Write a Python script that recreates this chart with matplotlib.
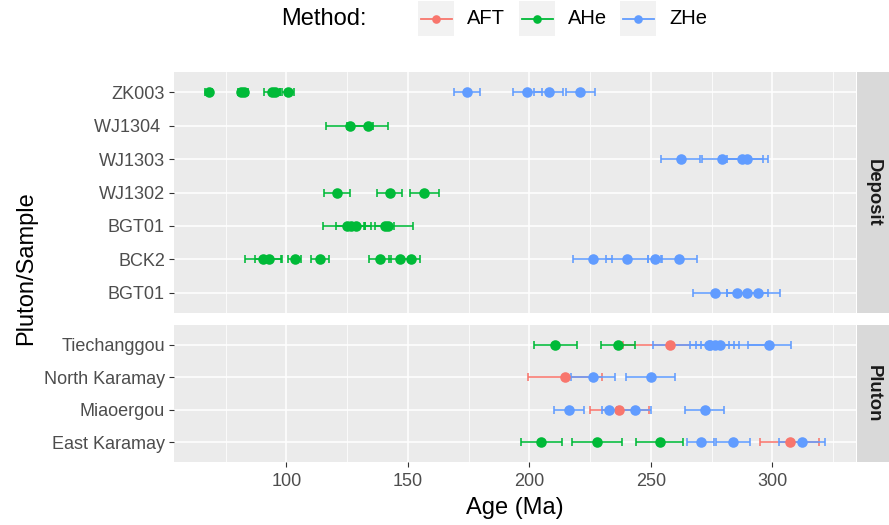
#!/usr/bin/env python3
import numpy as np
import matplotlib
matplotlib.use('Agg')
import matplotlib.pyplot as plt
from matplotlib.patches import Rectangle
from matplotlib.lines import Line2D

plt.rcParams['font.family'] = ['Liberation Sans', 'DejaVu Sans']

# Row keys per facet (top to bottom) and the text shown on the axis
deposit_keys = ["ZK003", "WJ1304", "WJ1303", "WJ1302", "BGT01", "BCK2", "BGT01b"]
deposit_labels = ["ZK003", "WJ1304 ", "WJ1303", "WJ1302", "BGT01", "BCK2", "BGT01"]
pluton_keys = ["Tiechanggou", "North Karamay", "Miaoergou", "East Karamay"]
pluton_labels = ["Tiechanggou", "North Karamay", "Miaoergou", "East Karamay"]

# Apatite fission track
aft_sample = ["Tiechanggou", "North Karamay", "Miaoergou", "East Karamay"]
aft_age = [258.0, 214.8, 237.0, 307.1]
aft_err = [19.3, 15.2, 12.2, 12.0]

# Apatite (U-Th)/He
ahe_sample = ["ZK003", "ZK003", "ZK003", "ZK003", "ZK003", "ZK003",
              "WJ1304", "WJ1304",
              "WJ1302", "WJ1302", "WJ1302",
              "BGT01", "BGT01", "BGT01", "BGT01", "BGT01",
              "BCK2", "BCK2", "BCK2", "BCK2", "BCK2", "BCK2", "BCK2",
              "Tiechanggou", "Tiechanggou",
              "East Karamay", "East Karamay", "East Karamay"]
ahe_age = [68.0, 81.5, 82.5, 94.0, 95.5, 100.5,
           126.0, 133.5,
           120.8, 142.5, 156.8,
           125.0, 126.5, 128.5, 140.5, 142.0,
           90.4, 92.7, 103.4, 113.7, 138.7, 146.6, 151.1,
           210.7, 236.6,
           204.9, 227.8, 253.6]
ahe_err = [1.5, 1.5, 1.5, 3.2, 2.0, 2.5,
           9.5, 8.5,
           5.2, 5.0, 6.0,
           10.0, 6.0, 4.0, 4.0, 10.0,
           7.5, 5.5, 2.6, 3.7, 4.5, 4.5, 4.0,
           8.8, 6.9,
           8.4, 10.4, 9.7]

# Zircon (U-Th)/He
zhe_sample = ["ZK003", "ZK003", "ZK003", "ZK003",
              "WJ1303", "WJ1303", "WJ1303", "WJ1303",
              "BCK2", "BCK2", "BCK2", "BCK2",
              "BGT01b", "BGT01b", "BGT01b", "BGT01b",
              "Tiechanggou", "Tiechanggou", "Tiechanggou", "Tiechanggou", "Tiechanggou",
              "North Karamay", "North Karamay",
              "Miaoergou", "Miaoergou", "Miaoergou", "Miaoergou",
              "East Karamay", "East Karamay", "East Karamay"]
zhe_age = [174.2, 199.1, 208.0, 221.0,
           262.3, 279.2, 287.4, 289.7,
           226.0, 240.2, 251.7, 261.6,
           276.4, 285.6, 289.7, 294.1,
           274.0, 274.5, 276.5, 278.4, 298.8,
           226.2, 249.9,
           216.3, 232.9, 243.4, 272.2,
           270.6, 283.8, 312.3]
zhe_err = [5.3, 6.0, 6.0, 6.0,
           8.0, 8.0, 8.8, 8.5,
           8.0, 8.5, 3.0, 7.3,
           9.0, 4.1, 8.5, 8.9,
           8.0, 23.5, 7.7, 7.7, 9.0,
           9.0, 10.0,
           6.2, 3.0, 6.8, 8.0,
           5.5, 7.0, 9.4]

methods = ["AFT", "AHe", "ZHe"]
colors = {"AFT": "#F8766D", "AHe": "#00BA38", "ZHe": "#619CFF"}
series = {
    "AFT": (aft_sample, aft_age, aft_err),
    "AHe": (ahe_sample, ahe_age, ahe_err),
    "ZHe": (zhe_sample, zhe_age, zhe_err),
}

W, H = 889, 525


def box(x0, y0, x1, y1):
    # pixel box (top-left origin) -> figure fraction rect
    return [x0 / W, 1 - y1 / H, (x1 - x0) / W, (y1 - y0) / H]


fig = plt.figure(figsize=(W / 100, H / 100), dpi=100)
fig.patch.set_facecolor('white')

ax_dep = fig.add_axes(box(174, 72, 856, 313))
ax_plu = fig.add_axes(box(174, 325, 856, 462))
panels = [(ax_dep, deposit_keys, deposit_labels, "Deposit", (72, 313)),
          (ax_plu, pluton_keys, pluton_labels, "Pluton", (325, 462))]

# shared x range with 5% padding on the error bar extent
lows = np.concatenate([np.array(series[m][1]) - np.array(series[m][2]) for m in methods])
highs = np.concatenate([np.array(series[m][1]) + np.array(series[m][2]) for m in methods])
pad = 0.05 * (highs.max() - lows.min())
xlim = (lows.min() - pad, highs.max() + pad)

tick_col = '#4D4D4D'
for ax, keys, labels, name, (ytop, ybot) in panels:
    ax.set_facecolor('#EBEBEB')
    for s in ax.spines.values():
        s.set_visible(False)
    ax.set_xlim(*xlim)
    ax.set_ylim(len(keys) - 1 + 0.6, -0.6)
    ax.set_xticks([100, 150, 200, 250, 300])
    ax.set_xticks([75, 125, 175, 225, 275, 325], minor=True)
    ax.set_yticks(range(len(keys)))
    ax.set_yticklabels(labels)
    ax.grid(True, which='major', color='white', linewidth=1.1)
    ax.grid(True, which='minor', axis='x', color='white', linewidth=0.55)
    ax.set_axisbelow(True)
    ax.tick_params(axis='y', which='major', length=3.5, width=0.8, color='#333333',
                   labelsize=13, labelcolor=tick_col, pad=3)
    ax.tick_params(axis='x', which='minor', length=0)
    ax.tick_params(axis='x', which='major', length=3.5, width=0.8, color='#333333',
                   labelsize=13, labelcolor=tick_col, pad=4.5)

    # error bars first, points on top
    for m in methods:
        samp, age, err = series[m]
        idx = [i for i, s in enumerate(samp) if s in keys]
        if not idx:
            continue
        ys = [keys.index(samp[i]) for i in idx]
        ax.errorbar([age[i] for i in idx], ys, xerr=[err[i] for i in idx], fmt='none',
                    ecolor=colors[m], elinewidth=1.15, capsize=2.7, capthick=1.15, zorder=3)
    for m in methods:
        samp, age, err = series[m]
        idx = [i for i, s in enumerate(samp) if s in keys]
        if not idx:
            continue
        ys = [keys.index(samp[i]) for i in idx]
        ax.plot([age[i] for i in idx], ys, 'o', color=colors[m], markersize=7.6,
                markeredgewidth=0, zorder=4)

    # facet strip on the right
    sax = fig.add_axes(box(857, ytop, 889, ybot))
    sax.set_facecolor('#D9D9D9')
    sax.set_xticks([])
    sax.set_yticks([])
    for s in sax.spines.values():
        s.set_visible(False)
    sax.text(0.5, 0.5, name, rotation=-90, ha='center', va='center', fontsize=13.3,
             fontweight='bold', color='#1A1A1A', transform=sax.transAxes)

ax_dep.tick_params(axis='x', which='both', length=0, labelbottom=False)
ax_plu.set_xlabel('Age (Ma)', fontsize=17, labelpad=5)
fig.text(26 / W, 1 - 268 / H, 'Pluton/Sample', rotation=90, ha='center', va='center',
         fontsize=17)

# legend across the top
ov = fig.add_axes([0, 0, 1, 1])
ov.set_xlim(0, W)
ov.set_ylim(H, 0)
ov.axis('off')
ov.text(281, 19, 'Method:', fontsize=17, ha='left', va='center')
key_x = {"AFT": 418, "AHe": 519, "ZHe": 620}
for m in methods:
    x0 = key_x[m]
    ov.add_patch(Rectangle((x0, 1), 36, 35, facecolor='#F2F2F2', edgecolor='none'))
    ov.add_line(Line2D([x0 + 2.5, x0 + 33.5], [18.5, 18.5], color=colors[m], linewidth=1.3))
    ov.plot([x0 + 18], [18.5], 'o', color=colors[m], markersize=6.2, markeredgewidth=0)
    ov.text(x0 + 49, 19, m, fontsize=14.5, ha='left', va='center')

plt.savefig('out.png', dpi=100)
